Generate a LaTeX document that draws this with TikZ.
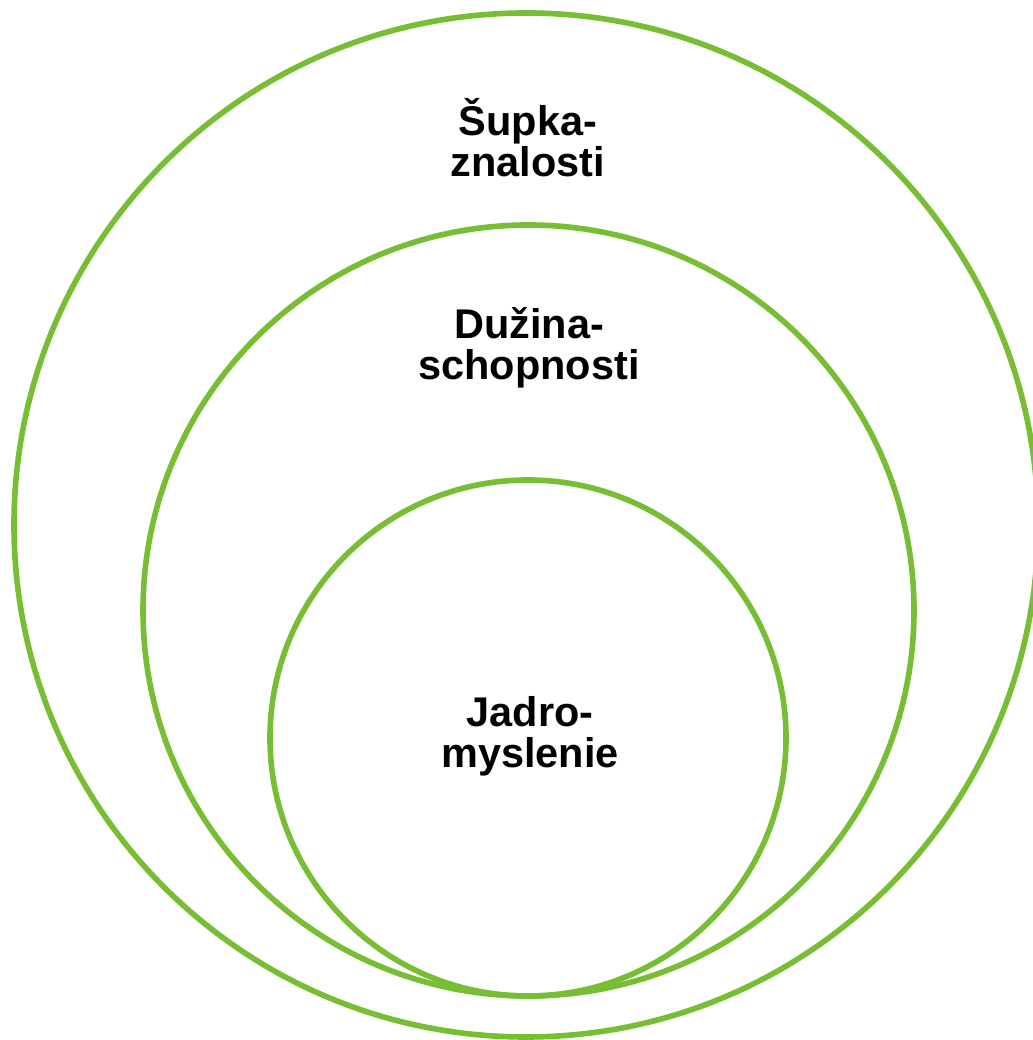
\documentclass[tikz,border=0pt]{standalone}
\usepackage{fontspec}
\setmainfont{Liberation Sans}
\definecolor{ring}{RGB}{120,190,52}
\definecolor{ink}{RGB}{0,0,0}
\usetikzlibrary{positioning}
\tikzset{
  layer/.style={draw=ring, line width=1.6pt},
  tag/.style={font=\bfseries\fontsize{11.8}{11.7}\selectfont, text=ink,
              align=center, inner sep=0pt, anchor=base},
}
\begin{document}
\begin{tikzpicture}
  \useasboundingbox (0,0) rectangle (10.32,10.40);
  % nested rings, all touching at the bottom
  \draw[layer] (5.26,5.15)  circle (5.12);
  \draw[layer] (5.285,4.295) circle (3.855);
  \draw[layer] (5.28,3.02)  circle (2.58);
  % labels
  \node[tag] (shell) at (5.28,8.63) {Šupka-\\znalosti};
  \node[tag] (flesh) at (5.29,6.60) {Dužina-\\schopnosti};
  \node[tag] (core)  at (5.30,2.72) {Jadro-\\myslenie};
\end{tikzpicture}
\end{document}
